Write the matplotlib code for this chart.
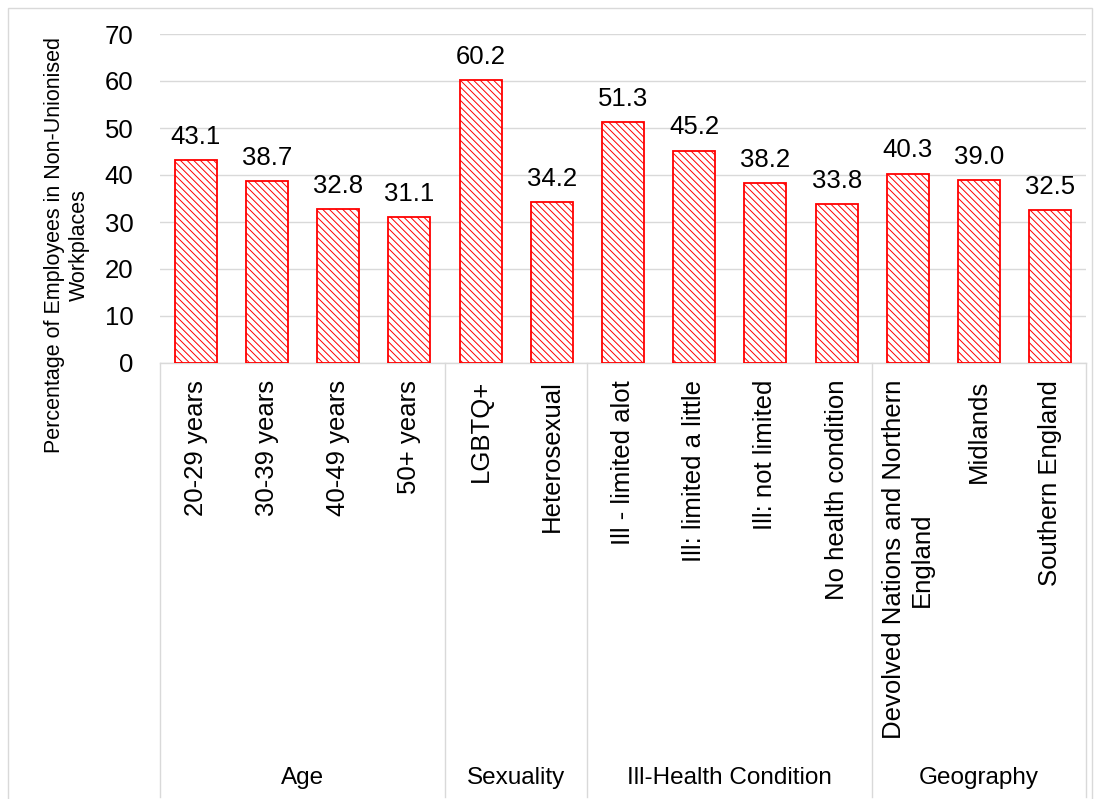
import numpy as np
import matplotlib.pyplot as plt
from matplotlib.patches import Rectangle

# Data
categories = ["20-29 years", "30-39 years", "40-49 years", "50+ years",
              "LGBTQ+", "Heterosexual",
              "Ill - limited alot", "Ill: limited a little", "Ill: not limited",
              "No health condition",
              "Devolved Nations and Northern\nEngland", "Midlands", "Southern England"]
values = [43.1, 38.7, 32.8, 31.1, 60.2, 34.2, 51.3, 45.2, 38.2, 33.8, 40.3, 39.0, 32.5]
groups = ["Age", "Sexuality", "Ill-Health Condition", "Geography"]
group_sizes = [4, 2, 4, 3]
yticks = [0, 10, 20, 30, 40, 50, 60, 70]

plt.rcParams['font.family'] = ['Liberation Sans', 'DejaVu Sans']
plt.rcParams['hatch.linewidth'] = 0.7

W, H = 1096, 799
fig = plt.figure(figsize=(W / 100, H / 100), dpi=100)

# outer chart border
fig.patches.append(Rectangle((8 / W, -0.01), (1084) / W, (791 + 8) / H,
                             transform=fig.transFigure, fill=False,
                             edgecolor="#d9d9d9", linewidth=1.0))

left, right, top, bottom = 160, 1086, 34, 363
ax = fig.add_axes([left / W, 1 - bottom / H, (right - left) / W, (bottom - top) / H])

x = np.arange(len(values))
ax.bar(x, values, width=0.59, color="white", edgecolor="red",
       hatch="\\\\\\\\\\", linewidth=1.3, zorder=3)

for xi, v in zip(x, values):
    ax.annotate(f"{v:.1f}", (xi, v), xytext=(0, 8), textcoords="offset points",
                ha="center", va="bottom", fontsize=18.5)

ax.set_xlim(-0.5, len(values) - 0.5)
ax.set_ylim(0, 70)
ax.set_yticks(yticks)
ax.tick_params(axis="y", length=0, labelsize=18.5, pad=19)
ax.set_xticks([])
ax.grid(axis="y", color="#d9d9d9", linewidth=1.0, zorder=0)
for s in ["top", "right", "left"]:
    ax.spines[s].set_visible(False)
ax.spines["bottom"].set_color("#d9d9d9")
ax.spines["bottom"].set_linewidth(1.0)

trans = ax.get_xaxis_transform()
ax_h = bottom - top
label_top = -17 / ax_h
line_bottom = -(797 - bottom) / ax_h
group_y = -(778 - bottom) / ax_h

# category labels, rotated
for xi, c in zip(x, categories):
    ax.text(xi, label_top, c, rotation=90, ha="center", va="top",
            multialignment="center", fontsize=18.5, transform=trans)

# group dividers and group names
start = 0
edges = [-0.5]
for g, n in zip(groups, group_sizes):
    end = start + n
    edges.append(end - 0.5)
    ax.text((start + end - 1) / 2, group_y, g, ha="center", va="center",
            fontsize=17.5, transform=trans)
    start = end
for e in edges:
    ax.plot([e, e], [0, line_bottom], color="#d9d9d9", linewidth=1.0,
            transform=trans, clip_on=False)

ax.text(-(160 - 67) / (right - left), (bottom - 245) / ax_h,
        "Percentage of Employees in Non-Unionised\nWorkplaces",
        rotation=90, ha="center", va="center", multialignment="center",
        fontsize=15.5, transform=ax.transAxes)

fig.savefig("out.png", dpi=100)
